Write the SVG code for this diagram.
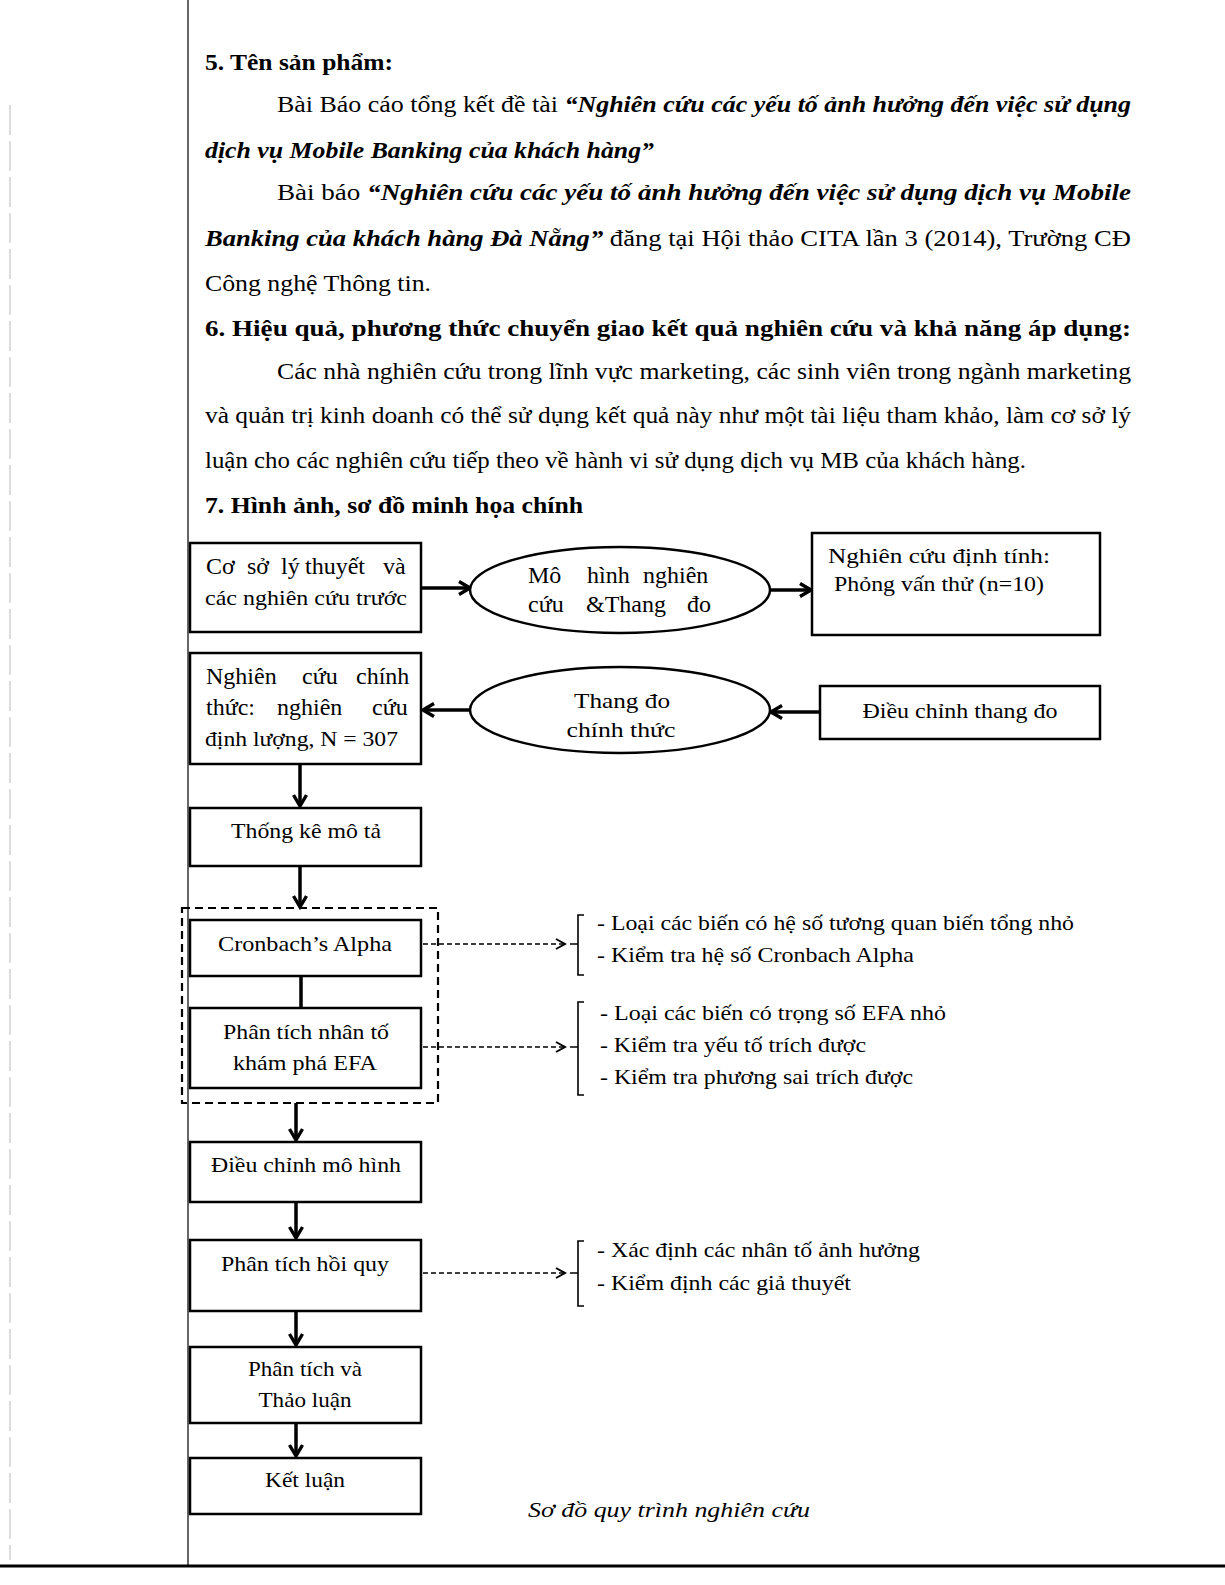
<svg xmlns="http://www.w3.org/2000/svg" width="1225" height="1585" viewBox="0 0 1225 1585">
<style>
.t{font-family:"Liberation Serif","Times New Roman",serif;font-size:24px;fill:#000}
.b{font-weight:bold}
.bi{font-weight:bold;font-style:italic}
.d{font-family:"Liberation Serif","Times New Roman",serif;font-size:22px;fill:#000}
.w{font-size:24px}
.box{fill:#fff;stroke:#000;stroke-width:2.5}
.ell{fill:#fff;stroke:#000;stroke-width:2.5}
.con{stroke:#000;stroke-width:3.5;fill:none}
.dash{stroke:#000;stroke-width:1.6;fill:none;stroke-dasharray:5 3}
.brk{stroke:#000;stroke-width:1.6;fill:none}
</style>
<defs>
<marker id="ah" viewBox="0 0 16 16" refX="13" refY="8" markerWidth="16" markerHeight="16" markerUnits="userSpaceOnUse" orient="auto">
<path d="M2,1.5 L13,8 L2,14.5" fill="none" stroke="#000" stroke-width="3.4"/>
</marker>
<marker id="ahd" viewBox="0 0 12 12" refX="10" refY="6" markerWidth="12" markerHeight="12" markerUnits="userSpaceOnUse" orient="auto">
<path d="M1,1 L10,6 L1,11" fill="none" stroke="#000" stroke-width="2"/>
</marker>
<clipPath id="c1"><ellipse cx="620" cy="590" rx="149" ry="42"/></clipPath>
</defs>
<rect width="1225" height="1585" fill="#fff"/>
<g id="page-lines">
<line x1="188" y1="0" x2="188" y2="1566" stroke="#333" stroke-width="1.5"/>
<line x1="0" y1="1566" x2="1225" y2="1566" stroke="#000" stroke-width="3"/>
<line x1="10" y1="105" x2="10" y2="1560" stroke="#bbb" stroke-width="1" stroke-dasharray="30 6"/>
</g>
<g id="body-text">
<text class="t b" x="205" y="70" textLength="188" lengthAdjust="spacingAndGlyphs">5. Tên sản phẩm:</text>
<text class="t" x="277" y="112" textLength="854" lengthAdjust="spacingAndGlyphs">Bài Báo cáo tổng kết đề tài <tspan class="bi">“Nghiên cứu các yếu tố ảnh hưởng đến việc sử dụng</tspan></text>
<text class="t bi" x="205" y="158" textLength="449" lengthAdjust="spacingAndGlyphs">dịch vụ Mobile Banking của khách hàng”</text>
<text class="t" x="277" y="200" textLength="854" lengthAdjust="spacingAndGlyphs">Bài báo <tspan class="bi">“Nghiên cứu các yếu tố ảnh hưởng đến việc sử dụng dịch vụ Mobile</tspan></text>
<text class="t" x="205" y="246" textLength="926" lengthAdjust="spacingAndGlyphs"><tspan class="bi">Banking của khách hàng Đà Nẵng”</tspan> đăng tại Hội thảo CITA lần 3 (2014), Trường CĐ</text>
<text class="t" x="205" y="291" textLength="226" lengthAdjust="spacingAndGlyphs">Công nghệ Thông tin.</text>
<text class="t b" x="205" y="336" textLength="926" lengthAdjust="spacingAndGlyphs">6. Hiệu quả, phương thức chuyển giao kết quả nghiên cứu và khả năng áp dụng:</text>
<text class="t" x="277" y="379" textLength="854" lengthAdjust="spacingAndGlyphs">Các nhà nghiên cứu trong lĩnh vực marketing, các sinh viên trong ngành marketing</text>
<text class="t" x="205" y="423" textLength="926" lengthAdjust="spacingAndGlyphs">và quản trị kinh doanh có thể sử dụng kết quả này như một tài liệu tham khảo, làm cơ sở lý</text>
<text class="t" x="205" y="468" textLength="821" lengthAdjust="spacingAndGlyphs">luận cho các nghiên cứu tiếp theo về hành vi sử dụng dịch vụ MB của khách hàng.</text>
<text class="t b" x="205" y="513" textLength="378" lengthAdjust="spacingAndGlyphs">7. Hình ảnh, sơ đồ minh họa chính</text>
</g>
<g id="connectors">
<line class="con" x1="421" y1="588" x2="470" y2="588" marker-end="url(#ah)"/>
<line class="con" x1="770" y1="590" x2="811" y2="590" marker-end="url(#ah)"/>
<line class="con" x1="470" y1="710" x2="423" y2="710" marker-end="url(#ah)"/>
<line class="con" x1="820" y1="712" x2="771" y2="712" marker-end="url(#ah)"/>
<line class="con" x1="300" y1="764" x2="300" y2="806" marker-end="url(#ah)"/>
<line class="con" x1="300" y1="866" x2="300" y2="907" marker-end="url(#ah)"/>
<line class="con" x1="301" y1="976" x2="301" y2="1008"/>
<line class="con" x1="296" y1="1103" x2="296" y2="1140" marker-end="url(#ah)"/>
<line class="con" x1="296" y1="1202" x2="296" y2="1238" marker-end="url(#ah)"/>
<line class="con" x1="296" y1="1311" x2="296" y2="1345" marker-end="url(#ah)"/>
<line class="con" x1="296" y1="1423" x2="296" y2="1456" marker-end="url(#ah)"/>
<rect x="182" y="908" width="256" height="195" fill="none" stroke="#000" stroke-width="2.2" stroke-dasharray="8 5"/>
<line class="dash" x1="423" y1="944" x2="565" y2="944" marker-end="url(#ahd)"/>
<line class="dash" x1="423" y1="1047" x2="565" y2="1047" marker-end="url(#ahd)"/>
<line class="dash" x1="423" y1="1273" x2="565" y2="1273" marker-end="url(#ahd)"/>
</g>
<g id="brackets">
<path class="brk" d="M584,915 H578 V975 H584 M578,944 H570"/>
<path class="brk" d="M584,1002 H578 V1095 H584 M578,1047 H570"/>
<path class="brk" d="M584,1241 H578 V1306 H584 M578,1273 H570"/>
</g>
<g id="n-coso">
<rect class="box" x="190" y="543" width="231" height="89"/>
<text class="d w" y="574"><tspan x="206">Cơ</tspan><tspan x="247">sở</tspan><tspan x="281">lý</tspan><tspan x="305">thuyết</tspan><tspan x="383">và</tspan></text>
<text class="d" x="205" y="605" textLength="202" lengthAdjust="spacingAndGlyphs">các nghiên cứu trước</text>
</g>
<g id="n-mohinh">
<ellipse class="ell" cx="620" cy="590" rx="150" ry="43"/>
<g clip-path="url(#c1)">
<text class="d w" y="583"><tspan x="528">Mô</tspan><tspan x="587">hình</tspan><tspan x="643">nghiên</tspan></text>
<text class="d w" y="612"><tspan x="528">cứu</tspan><tspan x="586">&amp;Thang</tspan><tspan x="687">đo</tspan></text>
</g>
</g>
<g id="n-dinhtinh">
<rect class="box" x="812" y="533" width="288" height="102"/>
<text class="d" x="828" y="563" textLength="222" lengthAdjust="spacingAndGlyphs">Nghiên cứu định tính:</text>
<text class="d" x="834" y="591" textLength="210" lengthAdjust="spacingAndGlyphs">Phỏng vấn thử (n=10)</text>
</g>
<g id="n-chinhthuc">
<rect class="box" x="190" y="653" width="231" height="111"/>
<text class="d w" y="684"><tspan x="206">Nghiên</tspan><tspan x="302">cứu</tspan><tspan x="356">chính</tspan></text>
<text class="d w" y="715"><tspan x="206">thức:</tspan><tspan x="277">nghiên</tspan><tspan x="372">cứu</tspan></text>
<text class="d" x="205" y="746" textLength="193" lengthAdjust="spacingAndGlyphs">định lượng, N = 307</text>
</g>
<g id="n-thangdo">
<ellipse class="ell" cx="620" cy="710" rx="150" ry="43"/>
<text class="d" x="622" y="708" text-anchor="middle" textLength="96" lengthAdjust="spacingAndGlyphs">Thang đo</text>
<text class="d" x="621" y="737" text-anchor="middle" font-size="20" textLength="109" lengthAdjust="spacingAndGlyphs">chính thức</text>
</g>
<g id="n-dieuchinhthangdo">
<rect class="box" x="820" y="686" width="280" height="53"/>
<text class="d" x="960" y="718" text-anchor="middle" textLength="195" lengthAdjust="spacingAndGlyphs">Điều chỉnh thang đo</text>
</g>
<g id="n-thongke">
<rect class="box" x="190" y="808" width="231" height="58"/>
<text class="d" x="306" y="838" text-anchor="middle" textLength="150" lengthAdjust="spacingAndGlyphs">Thống kê mô tả</text>
</g>
<g id="n-cronbach">
<rect class="box" x="190" y="920" width="231" height="56"/>
<text class="d" x="305" y="951" text-anchor="middle" textLength="174" lengthAdjust="spacingAndGlyphs">Cronbach’s Alpha</text>
</g>
<g id="n-efa">
<rect class="box" x="190" y="1008" width="231" height="80"/>
<text class="d" x="306" y="1039" text-anchor="middle" textLength="166" lengthAdjust="spacingAndGlyphs">Phân tích nhân tố</text>
<text class="d" x="305" y="1070" text-anchor="middle" textLength="144" lengthAdjust="spacingAndGlyphs">khám phá EFA</text>
</g>
<g id="n-dieuchinhmohinh">
<rect class="box" x="190" y="1142" width="231" height="60"/>
<text class="d" x="306" y="1172" text-anchor="middle" textLength="190" lengthAdjust="spacingAndGlyphs">Điều chỉnh mô hình</text>
</g>
<g id="n-hoiquy">
<rect class="box" x="190" y="1240" width="231" height="71"/>
<text class="d" x="305" y="1271" text-anchor="middle" textLength="168" lengthAdjust="spacingAndGlyphs">Phân tích hồi quy</text>
</g>
<g id="n-thaoluan">
<rect class="box" x="190" y="1347" width="231" height="76"/>
<text class="d" x="305" y="1376" text-anchor="middle" textLength="114" lengthAdjust="spacingAndGlyphs">Phân tích và</text>
<text class="d" x="305" y="1407" text-anchor="middle" textLength="93" lengthAdjust="spacingAndGlyphs">Thảo luận</text>
</g>
<g id="n-ketluan">
<rect class="box" x="190" y="1458" width="231" height="56"/>
<text class="d" x="305" y="1487" text-anchor="middle" textLength="80" lengthAdjust="spacingAndGlyphs">Kết luận</text>
</g>
<g id="notes">
<text class="d" x="597" y="930" textLength="477" lengthAdjust="spacingAndGlyphs">- Loại các biến có hệ số tương quan biến tổng nhỏ</text>
<text class="d" x="597" y="962" textLength="317" lengthAdjust="spacingAndGlyphs">- Kiểm tra hệ số Cronbach Alpha</text>
<text class="d" x="600" y="1020" textLength="346" lengthAdjust="spacingAndGlyphs">- Loại các biến có trọng số EFA nhỏ</text>
<text class="d" x="600" y="1052" textLength="266" lengthAdjust="spacingAndGlyphs">- Kiểm tra yếu tố trích được</text>
<text class="d" x="600" y="1084" textLength="313" lengthAdjust="spacingAndGlyphs">- Kiểm tra phương sai trích được</text>
<text class="d" x="597" y="1257" textLength="323" lengthAdjust="spacingAndGlyphs">- Xác định các nhân tố ảnh hưởng</text>
<text class="d" x="597" y="1290" textLength="254" lengthAdjust="spacingAndGlyphs">- Kiểm định các giả thuyết</text>
</g>
<text class="d" x="528" y="1517" font-style="italic" font-size="23" textLength="282" lengthAdjust="spacingAndGlyphs">Sơ đồ quy trình nghiên cứu</text>
</svg>
